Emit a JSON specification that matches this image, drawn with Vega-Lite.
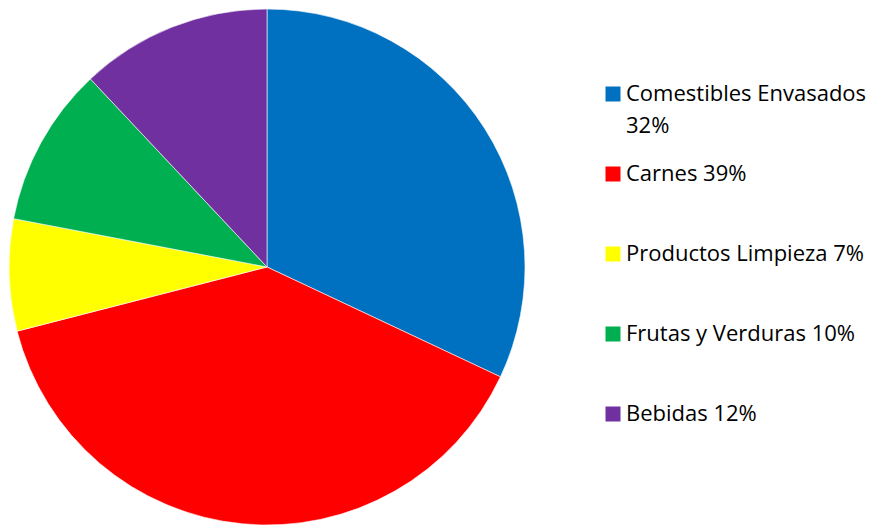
{
  "$schema": "https://vega.github.io/schema/vega-lite/v6.json",
  "width": 534,
  "height": 534,
  "autosize": "pad",
  "padding": 0,
  "background": "white",
  "config": {"view": {"stroke": null}},
  "data": {
    "values": [
      {"categoria": "Comestibles Envasados 32%", "valor": 32, "orden": 1},
      {"categoria": "Carnes 39%", "valor": 39, "orden": 2},
      {"categoria": "Productos Limpieza 7%", "valor": 7, "orden": 3},
      {"categoria": "Frutas y Verduras 10%", "valor": 10, "orden": 4},
      {"categoria": "Bebidas 12%", "valor": 12, "orden": 5}
    ]
  },
  "mark": {"type": "arc", "radius": 258, "stroke": "white", "strokeWidth": 0.6},
  "encoding": {
    "theta": {"field": "valor", "type": "quantitative", "stack": true},
    "order": {"field": "orden", "type": "quantitative"},
    "color": {
      "field": "categoria",
      "type": "nominal",
      "sort": null,
      "scale": {
        "domain": ["Comestibles Envasados 32%", "Carnes 39%", "Productos Limpieza 7%", "Frutas y Verduras 10%", "Bebidas 12%"],
        "range": ["#0070C0", "#FF0000", "#FFFF00", "#00B050", "#7030A0"]
      },
      "legend": {
        "title": null,
        "orient": "none",
        "legendX": 602,
        "legendY": 83,
        "symbolType": "square",
        "symbolSize": 225,
        "symbolStrokeWidth": 0,
        "symbolOffset": 0,
        "labelFont": "Open Sans",
        "labelFontSize": 22,
        "labelColor": "black",
        "labelOffset": 2,
        "labelLimit": 400,
        "labelBaseline": "middle",
        "rowPadding": 26,
        "gridAlign": "all",
        "labelExpr": "datum.label == 'Comestibles Envasados 32%' ? ['Comestibles Envasados', '32%'] : datum.label",
        "encoding": {
          "labels": {"lineHeight": {"value": 32}}
        }
      }
    }
  }
}
